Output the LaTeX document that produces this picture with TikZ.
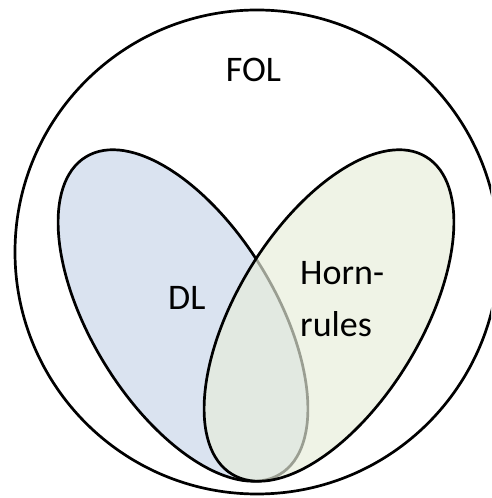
\documentclass[tikz,border=0pt]{standalone}
\usepackage{fontspec}
\setmainfont{Carlito}
\definecolor{dlfill}{HTML}{DAE3F0}
\definecolor{hornfill}{HTML}{E7EDDA}
\begin{document}
\begin{tikzpicture}[x=1pt,y=1pt,
  outline/.style={line width=2.7pt, draw=black},
  lbl/.style={inner sep=0pt, font=\fontsize{36}{52}\selectfont, text=black}]
\useasboundingbox (0,0) rectangle (491,498);
\begin{scope}
\clip (0,0) rectangle (491,498);
\draw[outline] (257,246) circle [radius=242];
\end{scope}
\path[outline, fill=dlfill] (183,182.5) ellipse [x radius=186, y radius=92, rotate=-58.5];
\path[outline, fill=hornfill, fill opacity=0.67] (329,182.5) ellipse [x radius=186, y radius=92, rotate=58.5];
\node[lbl, anchor=base] (fol) at (253.5,416) {FOL};
\node[lbl, anchor=base west] (dl) at (168,188) {DL};
\node[lbl, anchor=base west, align=left] (horn) at (300,161) {Horn-\\rules};
\end{tikzpicture}
\end{document}
